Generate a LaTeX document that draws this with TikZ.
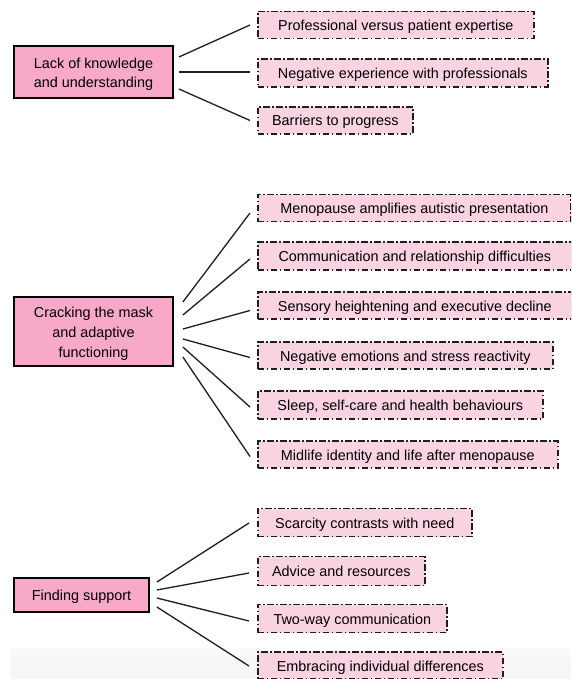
\documentclass[tikz,border=0pt]{standalone}
\usepackage{fontspec}
\setmainfont{Liberation Sans}
\usetikzlibrary{calc}
\definecolor{mainpink}{HTML}{F8A8C8}
\definecolor{subpink}{HTML}{FAD3E2}
\definecolor{edgegray}{HTML}{1E1E1E}
\newcommand{\firststrut}{\rule{0pt}{15pt}}
\begin{document}
\begin{tikzpicture}[x=1pt,y=-1pt,
  txt/.style={font=\fontsize{14.4}{19.8}\selectfont, text=black},
  mainbox/.style={txt, draw=black, line width=1.8pt, fill=mainpink, align=center, inner sep=0pt},
  oneline/.style={text height=13pt, text depth=2pt},
  subbox/.style={txt, oneline, draw=edgegray, line width=1.7pt, fill=subpink,
    dash pattern=on 6.5pt off 2.5pt on 1.5pt off 2.5pt, inner sep=0pt, anchor=west},
  conn/.style={draw=edgegray, line width=1.3pt}]
\clip (0,0) rectangle (571,679);
\fill[white] (0,0) rectangle (571,679);
% faint grey band at the bottom
\fill[gray!4] (11,648) rectangle (571,679);
\fill[gray!7] (11,657) rectangle (571,679);

% main themes
\node[mainbox, minimum width=159pt, minimum height=52pt] (m1) at (93.5,72) {\firststrut Lack of knowledge\\and understanding};
\node[mainbox, minimum width=159pt, minimum height=69pt] (m2) at (93.5,331.5) {\firststrut Cracking the mask\\and adaptive\\functioning};
\node[mainbox, oneline, minimum width=135pt, minimum height=34pt] (m3) at (81.5,595) {Finding support};

% sub themes
\node[subbox, minimum width=276pt, minimum height=27pt] (s1) at (257,25) {Professional versus patient expertise};
\node[subbox, minimum width=290pt, minimum height=28pt] (s2) at (257,73) {Negative experience with professionals};
\node[subbox, minimum width=155pt, minimum height=27pt] (s3) at (257,120.5) {Barriers to progress};

\node[subbox, minimum width=313pt, minimum height=27pt] (c1) at (257,208) {Menopause amplifies autistic presentation};
\node[subbox, minimum width=314pt, minimum height=28pt] (c2) at (257,256) {Communication and relationship difficulties};
\node[subbox, minimum width=314pt, minimum height=27pt] (c3) at (257,305.5) {Sensory heightening and executive decline};
\node[subbox, minimum width=295pt, minimum height=27pt] (c4) at (257,355.5) {Negative emotions and stress reactivity};
\node[subbox, minimum width=285pt, minimum height=28pt] (c5) at (257,405) {Sleep, self-care and health behaviours};
\node[subbox, minimum width=300pt, minimum height=27pt] (c6) at (257,454.5) {Midlife identity and life after menopause};

\node[subbox, minimum width=214pt, minimum height=28pt] (f1) at (257,522.5) {Scarcity contrasts with need};
\node[subbox, minimum width=167pt, minimum height=29pt] (f2) at (257,571) {Advice and resources};
\node[subbox, minimum width=189pt, minimum height=28pt] (f3) at (257,618.5) {Two-way communication};
\node[subbox, minimum width=245pt, minimum height=27pt] (f4) at (257,665.5) {Embracing individual differences};

% connectors: theme 1
\draw[conn] ($(m1.east)+(5,-15)$) -- ($(s1.west)+(-7,0)$);
\draw[conn] ($(m1.east)+(5,0)$) -- ($(s2.west)+(-7,-1)$);
\draw[conn] ($(m1.east)+(5,17)$) -- ($(s3.west)+(-7,0)$);

% connectors: theme 2
\draw[conn] ($(m2.east)+(9,-29.5)$) -- ($(c1.west)+(-7,5)$);
\draw[conn] ($(m2.east)+(9,-16.5)$) -- ($(c2.west)+(-7,3)$);
\draw[conn] ($(m2.east)+(9,-2.5)$) -- ($(c3.west)+(-7,5)$);
\draw[conn] ($(m2.east)+(9,7.5)$) -- ($(c4.west)+(-7,2)$);
\draw[conn] ($(m2.east)+(9,15.5)$) -- ($(c5.west)+(-7,2)$);
\draw[conn] ($(m2.east)+(9,25.5)$) -- ($(c6.west)+(-7,2)$);

% connectors: theme 3
\draw[conn] ($(m3.east)+(7,-13)$) -- ($(f1.west)+(-8,0.5)$);
\draw[conn] ($(m3.east)+(7,-5)$) -- ($(f2.west)+(-8,2)$);
\draw[conn] ($(m3.east)+(7,3)$) -- ($(f3.west)+(-8,2.5)$);
\draw[conn] ($(m3.east)+(7,12)$) -- ($(f4.west)+(-8,0.5)$);
\end{tikzpicture}
\end{document}
